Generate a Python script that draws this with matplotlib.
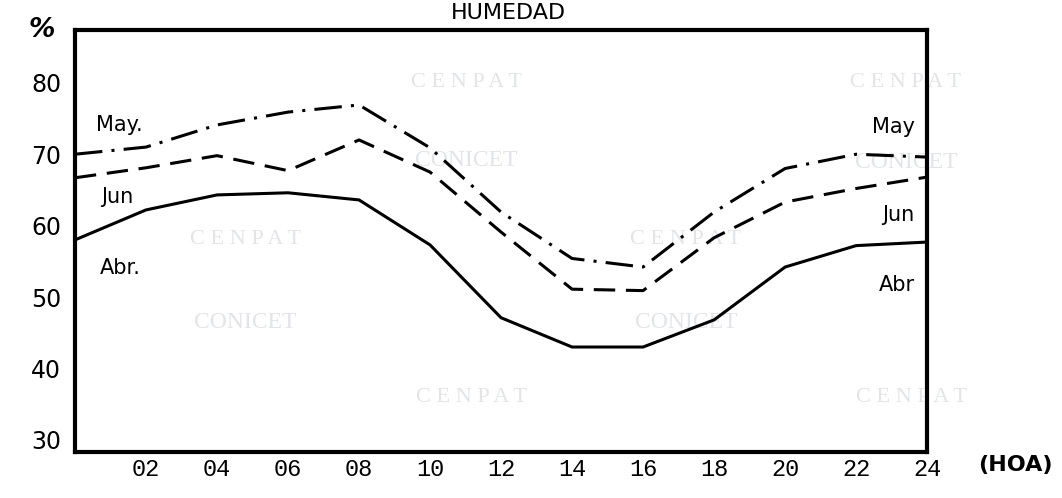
import matplotlib.pyplot as plt

# Hourly relative humidity (%), monthly means
hours = [0, 2, 4, 6, 8, 10, 12, 14, 16, 18, 20, 22, 24]
abr = [58.0, 62.2, 64.3, 64.6, 63.6, 57.3, 47.1, 43.0, 43.0, 46.8, 54.2, 57.2, 57.7]
may = [70.0, 71.0, 74.1, 75.9, 76.9, 70.9, 61.9, 55.4, 54.2, 61.9, 68.0, 70.0, 69.6]
jun = [66.7, 68.1, 69.8, 67.7, 72.0, 67.5, 59.1, 51.1, 50.9, 58.3, 63.3, 65.2, 66.8]

x_ticks = [2, 4, 6, 8, 10, 12, 14, 16, 18, 20, 22, 24]
x_labels = ["02", "04", "06", "08", "10", "12", "14", "16", "18", "20", "22", "24"]
y_ticks = [30, 40, 50, 60, 70, 80]

fig = plt.figure(figsize=(10.62, 4.98), dpi=100)
ax = fig.add_axes([0.0706, 0.0924, 0.8024, 0.8474])
ax.patch.set_visible(False)

# faint institutional stamps in the background
wm_color = "#e2e4e8"
stamp_cols = [(466, 82, 160), (906, 82, 162), (245, 240, 322), (686, 240, 322)]
for cx, y1, y2 in stamp_cols:
    fig.text(cx / 1062, 1 - y1 / 498, "C E N P A T", color=wm_color,
             fontsize=16, family="Liberation Serif", ha="center", va="center", zorder=-1)
    fig.text(cx / 1062, 1 - y2 / 498, "CONICET", color=wm_color,
             fontsize=17, family="Liberation Serif", ha="center", va="center", zorder=-1)
for cx, cy in [(471, 397), (911, 398)]:
    fig.text(cx / 1062, 1 - cy / 498, "C E N P A T", color=wm_color,
             fontsize=16, family="Liberation Serif", ha="center", va="center", zorder=-1)

ax.plot(hours, abr, color="black", lw=2.2, ls="-")
ax.plot(hours, may, color="black", lw=2.2, ls=(0, (9, 3, 1, 3)))
ax.plot(hours, jun, color="black", lw=2.2, ls=(0, (7, 3.5)))

ax.set_xlim(0, 24)
ax.set_ylim(28.3, 87.4)
ax.set_xticks(x_ticks)
ax.set_xticklabels(x_labels, family="Liberation Mono", fontsize=17)
ax.set_yticks(y_ticks)
ax.set_yticklabels([str(v) for v in y_ticks], fontsize=17)
ax.tick_params(axis="both", length=0)
ax.tick_params(axis="x", pad=4)
ax.tick_params(axis="y", pad=10)
for sp in ax.spines.values():
    sp.set_linewidth(3)

lbl = dict(fontsize=15, color="black", va="center")
ax.text(0.6, 74.1, "May.", ha="left", **lbl)
ax.text(0.75, 64.0, "Jun", ha="left", **lbl)
ax.text(0.7, 54.1, "Abr.", ha="left", **lbl)
ax.text(23.65, 73.8, "May", ha="right", **lbl)
ax.text(23.65, 61.5, "Jun", ha="right", **lbl)
ax.text(23.65, 51.7, "Abr", ha="right", **lbl)

fig.text(508 / 1062, 1 - 13 / 498, "HUMEDAD", fontsize=16,
         ha="center", va="center")
fig.text(42 / 1062, 1 - 30 / 498, "%", fontsize=19, fontweight="bold", style="italic",
         ha="center", va="center")
fig.text(1015 / 1062, 1 - 465 / 498, "(HOA)", fontsize=16, fontweight="bold",
         ha="center", va="center")

fig.savefig("out.png", dpi=100)
